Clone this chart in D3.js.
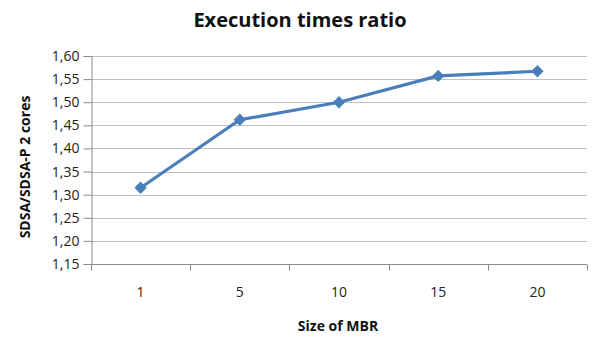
<!DOCTYPE html>
<html>
<head>
<meta charset="utf-8">
<script src="https://cdn.jsdelivr.net/npm/d3@7"></script>
<style>
  html, body { margin: 0; padding: 0; background: #fff; }
  svg { display: block; }
</style>
</head>
<body>
<svg id="chart" width="595" height="338"></svg>
<script>
// MBR sizes and the SDSA / SDSA-P (2 cores) execution time ratio
const categories = ["1", "5", "10", "15", "20"];
const ratios = [1.315, 1.462, 1.500, 1.557, 1.567];
const yTicks = [1.15, 1.20, 1.25, 1.30, 1.35, 1.40, 1.45, 1.50, 1.55, 1.60];

const svg = d3.select("#chart");
const margin = { left: 91, right: 8, top: 56, bottom: 74 };
const W = 595, H = 338;
const font = "'Open Sans', 'Noto Sans', sans-serif";

const x = d3.scaleBand().domain(categories)
  .range([margin.left, W - margin.right]).paddingInner(0).paddingOuter(0);
const y = d3.scaleLinear().domain([1.15, 1.60]).range([H - margin.bottom, margin.top]);

const fmt = v => d3.format(".2f")(v).replace(".", ",");

// horizontal gridlines
svg.append("g").selectAll("line").data(yTicks.slice(1)).join("line")
  .attr("x1", margin.left).attr("x2", W - margin.right)
  .attr("y1", d => Math.round(y(d)) + 0.5).attr("y2", d => Math.round(y(d)) + 0.5)
  .attr("stroke", "#bfbfbf").attr("stroke-width", 1);

// y axis
const yAxis = svg.append("g")
  .attr("transform", `translate(${margin.left + 0.5},0)`)
  .call(d3.axisLeft(y).tickValues(yTicks).tickFormat(fmt).tickSize(8).tickPadding(4));
yAxis.select(".domain").attr("stroke", "#8c8c8c");
yAxis.selectAll(".tick line").attr("stroke", "#8c8c8c");
yAxis.selectAll(".tick text").attr("font-family", font).attr("font-size", 14).attr("fill", "#222");

// x axis: ticks on category boundaries, labels centred in each band
const xAxisG = svg.append("g").attr("transform", `translate(0,${Math.round(y(1.15)) + 0.5})`);
xAxisG.append("line").attr("x1", margin.left).attr("x2", W - margin.right)
  .attr("stroke", "#8c8c8c");
const bounds = categories.map(c => x(c)).concat([x(categories[categories.length - 1]) + x.bandwidth()]);
xAxisG.selectAll("line.tk").data(bounds).join("line").attr("class", "tk")
  .attr("x1", d => Math.round(d) + 0.5).attr("x2", d => Math.round(d) + 0.5)
  .attr("y1", 0).attr("y2", 6).attr("stroke", "#8c8c8c");
xAxisG.selectAll("text").data(categories).join("text")
  .attr("x", d => x(d) + x.bandwidth() / 2).attr("y", 32)
  .attr("text-anchor", "middle").attr("font-family", font).attr("font-size", 14).attr("fill", "#222")
  .text(d => d);

// series line and diamond markers
const line = d3.line().x((d, i) => x(categories[i]) + x.bandwidth() / 2).y(d => y(d));
svg.append("path").datum(ratios).attr("d", line)
  .attr("fill", "none").attr("stroke", "#4a7ebb").attr("stroke-width", 3.2)
  .attr("stroke-linejoin", "round");
svg.append("g").selectAll("path").data(ratios).join("path")
  .attr("d", d3.symbol(d3.symbolSquare, 76)())
  .attr("transform", (d, i) => `translate(${x(categories[i]) + x.bandwidth() / 2},${y(d)}) rotate(45)`)
  .attr("fill", "#4a7ebb");

// titles
svg.append("text").attr("x", 300).attr("y", 27).attr("text-anchor", "middle")
  .attr("font-family", font).attr("font-weight", "bold").attr("font-size", 20).attr("fill", "#111")
  .text("Execution times ratio");
svg.append("text").attr("x", 338).attr("y", 331).attr("text-anchor", "middle")
  .attr("font-family", font).attr("font-weight", "bold").attr("font-size", 14).attr("fill", "#111")
  .text("Size of MBR");
svg.append("text").attr("transform", "translate(30,167) rotate(-90)").attr("text-anchor", "middle")
  .attr("font-family", font).attr("font-weight", "bold").attr("font-size", 14).attr("fill", "#111")
  .text("SDSA/SDSA-P 2 cores");
</script>
</body>
</html>
